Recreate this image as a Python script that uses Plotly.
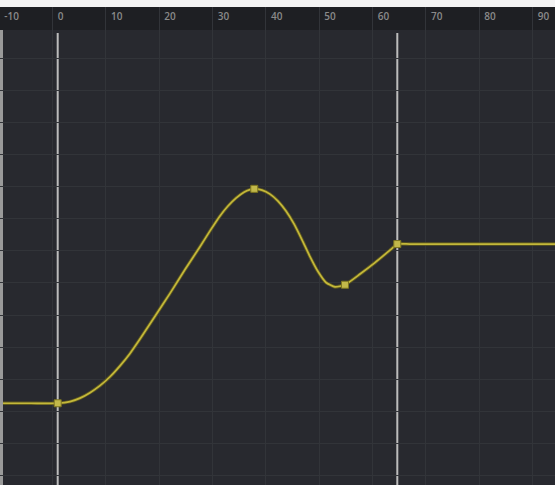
import plotly.graph_objects as go

curve_x = [-10.26, -5.0, 0.0, 2.31, 4.18, 6.06, 7.93, 9.81, 11.68, 13.56, 15.43, 18.25,
           21.06, 23.87, 26.68, 28.56, 30.43, 31.93, 33.43, 34.93, 36.06, 36.86,
           38.31, 39.81, 41.31, 42.81, 44.31, 45.81, 47.31, 48.81, 50.31, 52.0,
           53.87, 56.69, 59.5, 62.31, 63.68, 66.0, 75.0, 93.3]
curve_y = [1.255, 1.255, 1.255, 1.307, 1.415, 1.585, 1.802, 2.080, 2.420, 2.806, 3.254, 3.965,
           4.676, 5.417, 6.128, 6.622, 7.086, 7.395, 7.642, 7.827, 7.905, 7.930,
           7.889, 7.766, 7.549, 7.240, 6.838, 6.344, 5.819, 5.355, 5.015, 4.876,
           4.944, 5.278, 5.634, 6.020, 6.211, 6.211, 6.211, 6.211]

key_x = [0.0, 36.86, 53.87, 63.68]
key_y = [1.255, 7.930, 4.944, 6.211]

ruler_ticks = [-10, 0, 10, 20, 30, 40, 50, 60, 70, 80, 90]
ruler_labels = [str(t) for t in ruler_ticks]

bg = "#28292f"
grid = "#323439"
curve_col = "#c4b83a"

fig = go.Figure()

# dark outline under the curve, then the yellow curve
fig.add_trace(go.Scatter(x=curve_x, y=curve_y, mode="lines",
                         line=dict(color="#5e5820", width=3.4, shape="spline", smoothing=0.5),
                         hoverinfo="skip"))
fig.add_trace(go.Scatter(x=curve_x, y=curve_y, mode="lines",
                         line=dict(color=curve_col, width=1.7, shape="spline", smoothing=0.5)))
fig.add_trace(go.Scatter(x=key_x, y=key_y, mode="markers",
                         marker=dict(symbol="square", size=7, color="#c2b84a",
                                     line=dict(color="#7d7520", width=1))))

shapes = [
    # ruler band
    dict(type="rect", xref="paper", yref="paper", x0=0, x1=1, y0=0.9519, y1=1,
         fillcolor="#1e1f23", line_width=0, layer="below"),
    # left border strip
    dict(type="rect", xref="paper", yref="paper", x0=0, x1=3 / 555, y0=0, y1=0.9519,
         fillcolor="#9a9a9a", line_width=0, layer="below"),
]
# white lines on first and last keyframe
for kx in (key_x[0], key_x[-1]):
    shapes.append(dict(type="line", xref="x", yref="paper", x0=kx, x1=kx, y0=0, y1=0.9456,
                       line=dict(color="#bcbcbc", width=2), layer="below"))

fig.update_layout(
    width=555, height=485,
    margin=dict(l=0, r=0, t=7, b=0),
    paper_bgcolor="#f3f3f3",
    plot_bgcolor=bg,
    showlegend=False,
    shapes=shapes,
    xaxis=dict(
        range=[-10.819, 93.25], side="top",
        tickmode="array", tickvals=ruler_ticks, ticktext=ruler_labels,
        ticklabelposition="inside right", ticks="",
        tickfont=dict(family="Open Sans", size=10, color="#8a8a8a", weight=600),
        showgrid=False, zeroline=False, showline=False,
        minor=dict(tick0=-1, dtick=10, showgrid=True, gridcolor=grid, gridwidth=1),
    ),
    yaxis=dict(
        range=[-1.289, 13.59],
        tickmode="array", tickvals=list(range(-1, 13)),
        showticklabels=False, ticks="",
        showgrid=True, gridcolor=grid, gridwidth=1,
        zeroline=False, showline=False,
    ),
)

fig.write_html("out.html", config={"displayModeBar": False},
               post_script="document.body.style.margin='0';")
